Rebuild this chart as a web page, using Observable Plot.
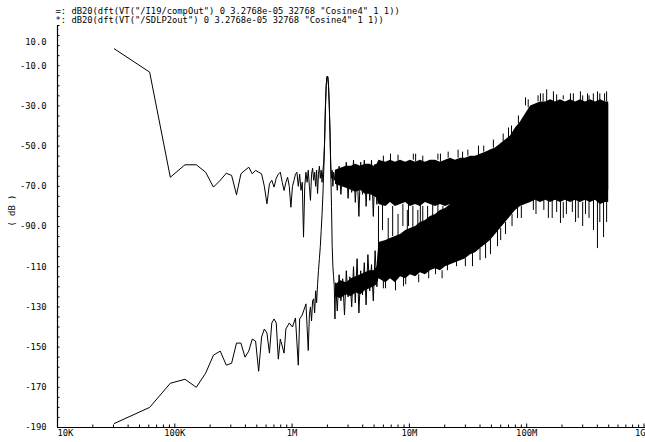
<!DOCTYPE html>
<html><head><meta charset="utf-8">
<script src="https://cdn.jsdelivr.net/npm/d3@7"></script>
<script src="https://cdn.jsdelivr.net/npm/@observablehq/plot@0.6"></script>
<style>body{margin:0;background:#fff}</style>
</head><body><div id="chart"></div>
<script>
// DFT bin width (Hz): 1 / 3.2768e-05 s
const binHz = 1 / 3.2768e-05;

const legendLines = [
  '=: dB20(dft(VT("/I19/compOut") 0 3.2768e-05 32768 "Cosine4" 1 1))',
  '*: dB20(dft(VT("/SDLP2out") 0 3.2768e-05 32768 "Cosine4" 1 1))'
];

// compOut: individually visible DFT bins (bin index, dB)
const s1Bins = [1,2,3,4,5,6,7,8,9,10,11,12,13,14,15,16,17,18,19,20,21,22,23,24,25,26,27,28,29,30,
  31,32,33,34,35,36,37,38,39,40,41,42,43,44,45,46,47,48,49,50,51,52,53,54,55,56,57,58,59,60,
  61,62,63,64,65,66,67,68,69,70,71,72,73,74,75];
const s1Db = [-1.6,-13.2,-65.5,-59.3,-59.3,-63,-70.4,-67,-63.5,-64.6,-74.2,-63.8,-62,-60.5,-63.8,-62.1,-63,-63.8,-70,-78.7,
  -68.8,-67,-70.4,-66,-64,-63,-68,-72.1,-68,-65.5,-70,-80.4,-70,-67.1,-64,-63,-70,-64,-72,-68,
  -95.3,-70,-63,-68,-62,-70,-77,-64,-61,-67,-63,-70,-62,-73.6,-64,-60,-66,-62,-68,-62,
  -58,-48,-30,-20,-15.4,-15.4,-20,-30,-44,-60,-66,-62,-70,-63,-67];

// SDLP2out: individually visible DFT bins (bin index, dB)
const s2Bins = [1,2,3,4,5,6,7,8,9,10,11,12,13,14,15,16,17,18,19,20,21,22,23,24,25,26,28,29,31,33,
  35,37,38,40,43,45,46,47,48,49,50,51,52,53,54,55,56,57,58,59,60,61,62,63,64,65,66,67,68,69,
  70,71,72,73,74,75,76];
const s2Db = [-188,-180,-168,-166,-170,-163,-154,-152,-159,-158,-148,-148,-155,-152,-146,-147,-162,-145,-141,-143,
  -153,-138,-136,-138,-156,-146,-153,-141,-138,-140,-135.5,-159,-136,-134,-128.5,-151.7,-134,-130,-137,-127,
  -126,-133,-122,-128,-119,-112,-106,-100,-92,-84,-74,-62,-48,-32,-20,-15.4,-15.4,-20,-30,-44,
  -62,-80,-100,-110,-115,-120,-136];

// 2.3 MHz – 5.5 MHz: zig-zag vertices (MHz, dB)
const midMHz = [2.344,2.428,2.516,2.606,2.700,2.797,2.898,3.002,3.110,3.222,3.338,3.458,3.582,3.711,3.844,
  3.983,4.126,4.275,4.428,4.588,4.753,4.923,5.101,5.284,5.474];
const s1MidDb = [-62,-72,-60,-74,-61,-70,-58,-76,-60,-73,-57,-78,-62,-85,-58,
  -74,-57,-80,-61,-77,-57,-85,-59,-79,-58];
const s2MidDb = [-118,-132,-114,-127,-116,-134,-112,-125,-115,-130,-110,-128,-106,-133,-112,
  -124,-108,-129,-104,-122,-109,-127,-102,-120,-100];

// Dense part (many bins per pixel): envelope (MHz, dB)
const bandMHz = [2.344,2.6,2.9,3.2,3.5,3.85,4.2,4.6,5.0,5.3,
  5.5,6.3,6.9,7.6,8.4,9.3,10.2,11.3,12.4,13.7,15.1,16.7,18.4,20.3,22.4,24.7,27.3,30.1,33.2,36.6,
  40.4,44.6,49.1,54.2,59.8,66,72.8,80.3,88.6,97.7,108,119,131,145,160,176,194,214,236,261,
  287,317,350,386,426,470,500];
const s1Hi = [-62,-61,-60,-60,-59,-60,-59,-59,-60,-59,
  -57,-58,-57,-58,-57,-58,-57,-58,-57,-58,-57,-57,-58,-57,-56,-57,-56,-56,-55,-55,
  -54,-53,-52,-51,-49,-47,-45,-41,-38,-34,-30,-29,-28,-28,-27,-28,-27,-28,-27,-28,
  -27,-28,-27,-28,-27,-28,-28];
const s1Lo = [-69,-70,-71,-72,-73,-72,-74,-74,-75,-76,
  -79,-80,-78,-80,-79,-78,-80,-79,-80,-78,-79,-80,-79,-80,-79,-81,-80,-81,-80,-81,
  -80,-79,-78,-77,-76,-75,-74,-73,-72,-72,-71,-72,-71,-72,-71,-72,-71,-72,-71,-72,
  -71,-72,-71,-72,-71,-72,-72];
const s2Hi = [-119,-117,-118,-116,-115,-114,-113,-112,-112,-110,
  -98,-97,-96,-95,-94,-92,-91,-90,-88,-87,-85,-84,-82,-81,-79,-77,-76,-74,-72,-70,
  -68,-65,-62,-60,-56,-52,-48,-44,-40,-36,-32,-30,-29,-29,-28,-29,-28,-29,-28,-29,
  -28,-29,-28,-29,-28,-29,-29];
const s2Lo = [-125,-126,-124,-125,-123,-124,-122,-121,-120,-119,
  -116,-118,-116,-118,-115,-116,-114,-115,-113,-114,-112,-111,-112,-110,-109,-108,-107,-106,-104,-103,
  -101,-99,-97,-94,-91,-88,-85,-82,-80,-79,-78,-77,-78,-77,-78,-77,-78,-77,-78,-77,
  -78,-77,-78,-77,-79,-78,-78];

// Isolated spikes sticking out of the dense band (MHz, from dB, to dB)
const spikeMHz = [
  5.45,6.26,6.9,7.61,8.91,9.82,11.3,12.4,14.6,16.7,18.4,21.1,25.2,28.4,34.5,38.8,44.6,49.1,56.4,66,
  74.2,83.5,97.7,114,131,148,153,169,194,218,236,261,287,317,330,371,401,401,452,461,
  5.9,6.6,7.2,8.0,8.8,9.6,10.7,11.8,13.0,14.3,15.8,17.5,19.3,23.5,
  6.0,8.0,10.8,13.0,17.5,21.4,26,31.5,43,52,63,70,85,103,125,138,180,205,250,300,340,370,420,480,
  120,140,165,180,205,245,275,300,340,420,480,
  6.0,9.3,12,19,30,40,60,75,90];
const spikeFrom = [
  -80,-112,-58,-114,-112,-78,-58,-78,-108,-108,-58,-105,-104,-57,-100,-55,-98,-96,-92,-88,
  -45,-80,-30,-76,-28,-28,-76,-28,-76,-76,-28,-76,-28,-76,-28,-76,-28,-76,-76,-28,
  -79,-97,-80,-95,-79,-93,-80,-90,-80,-88,-79,-84,-80,-80,
  -58,-58,-57,-58,-57,-56,-56,-55,-53,-51,-48,-46,-39,-31,-28,-28,-28,-27,-28,-28,-28,-28,-28,-28,
  -77,-77,-77,-77,-78,-77,-77,-78,-77,-78,-78,
  -116,-115,-114,-112,-106,-101,-91,-84,-80];
const spikeTo = [
  -110,-121,-54,-122,-120,-90,-54,-88,-116,-114,-54,-112,-110,-53,-110,-50,-106,-104,-100,-94,
  -40,-86,-26,-82,-24,-22,-86,-23,-88.5,-84,-24,-88,-23,-84,-24,-92,-23,-101,-95.5,-24,
  -92,-86,-95,-84,-90,-82,-100,-82,-92,-80,-89,-78,-92,-100,
  -55,-54.5,-54,-55,-54,-53,-52,-52,-50,-47,-44,-41,-35,-27,-25,-24,-24.5,-25,-24,-25,-25,-24,-24,-23,
  -84,-82,-86,-83,-86,-83,-86,-90,-86,-88,-88,
  -121,-119,-118,-116,-110,-107,-97,-90,-86];

const xTickVals = [1e5, 1e6, 1e7, 1e8];
const xTickLabels = ["100K", "1M", "10M", "100M"];
const xFirstTick = [1e4], xFirstLabel = ["10K"];
const xLastLabel = ["1G"];
const yTickVals = [-10, -30, -50, -70, -90, -110, -130, -150, -170, -190];
const yTickLabels = ["-10.0", "-30.0", "-50.0", "-70.0", "-90.0", "-110", "-130", "-150", "-170", "-190"];
const yTopTick = [10], yTopLabel = ["10.0"];
const yAxisLabel = "( dB )";

const decades = [1e4, 1e5, 1e6, 1e7, 1e8];
const xMinor = decades.flatMap(d => [2,3,4,5,6,7,8,9].map(m => d * m));
const xMajor = [1e4, 1e5, 1e6, 1e7, 1e8, 1e9];
const yMinor = d3.range(-190, 11, 5);

const s1 = s1Bins.map((k, i) => ({f: k * binHz, db: s1Db[i]}))
  .concat(midMHz.map((m, i) => ({f: m * 1e6, db: s1MidDb[i]})));
const s2 = s2Bins.map((k, i) => ({f: k * binHz, db: s2Db[i]}))
  .concat(midMHz.map((m, i) => ({f: m * 1e6, db: s2MidDb[i]})));
const band = bandMHz.map((m, i) => ({f: m * 1e6, hi1: s1Hi[i], lo1: s1Lo[i], hi2: s2Hi[i], lo2: s2Lo[i]}));
const spikes = spikeMHz.map((m, i) => ({f: m * 1e6, a: spikeFrom[i], b: spikeTo[i]}));

const font = "DejaVu Sans Mono";
const fs = 8.8;
const tickOpts = {tickFormat: () => "", fill: "none", label: null};

const chart = Plot.plot({
  width: 645,
  height: 442,
  marginLeft: 57,
  marginRight: 0,
  marginTop: 25,
  marginBottom: 15,
  style: {fontFamily: font, fontSize: fs + "px", background: "#fff", color: "#000"},
  x: {type: "log", domain: [1e4, 1e9], range: [57, 643.5], axis: null, label: null},
  y: {type: "linear", domain: [-190, 10], range: [427, 25], axis: null, label: null},
  marks: [
    Plot.areaY(band, {x: "f", y1: "lo2", y2: "hi2", fill: "#000"}),
    Plot.areaY(band, {x: "f", y1: "lo1", y2: "hi1", fill: "#000"}),
    Plot.ruleX(spikes, {x: "f", y1: "a", y2: "b", stroke: "#000", strokeWidth: 1}),
    Plot.line(s2, {x: "f", y: "db", stroke: "#000", strokeWidth: 1}),
    Plot.line(s1, {x: "f", y: "db", stroke: "#000", strokeWidth: 1}),
    // axis lines
    Plot.ruleY([-190], {stroke: "#000", strokeWidth: 1.2}),
    Plot.ruleX([1e4], {stroke: "#000", strokeWidth: 1.2}),
    // inward ticks
    Plot.axisX({ticks: xMinor, tickSize: -2.5, anchor: "bottom", ...tickOpts}),
    Plot.axisX({ticks: xMajor, tickSize: -3.5, anchor: "bottom", ...tickOpts}),
    Plot.axisY({ticks: yMinor, tickSize: -2.5, anchor: "left", ...tickOpts}),
    // tick labels
    Plot.text(xTickVals, {x: d => d, text: (d, i) => xTickLabels[i], frameAnchor: "bottom", lineAnchor: "top", dy: 2.5, textAnchor: "middle", fontSize: fs}),
    Plot.text(xFirstTick, {x: d => d, text: (d, i) => xFirstLabel[i], frameAnchor: "bottom", lineAnchor: "top", dy: 2.5, textAnchor: "start", fontSize: fs}),
    Plot.text(xLastLabel, {frameAnchor: "bottom-right", lineAnchor: "top", dy: 2.5, textAnchor: "end", fontSize: fs}),
    Plot.text(yTickVals, {y: d => d, text: (d, i) => yTickLabels[i], frameAnchor: "left", dx: -11, textAnchor: "end", fontSize: fs}),
    Plot.text(yTopTick, {y: d => d, text: (d, i) => yTopLabel[i], frameAnchor: "left", dx: -11, dy: 17, textAnchor: "end", fontSize: fs}),
    Plot.text([yAxisLabel], {frameAnchor: "left", dx: -45, rotate: -90, fontSize: fs}),
    Plot.text([legendLines.join("\n")], {frameAnchor: "top-left", dx: -2, dy: -17.5, lineAnchor: "top", textAnchor: "start", lineHeight: 1.03, fontSize: fs})
  ]
});
document.getElementById("chart").appendChild(chart);
</script>
</body></html>
